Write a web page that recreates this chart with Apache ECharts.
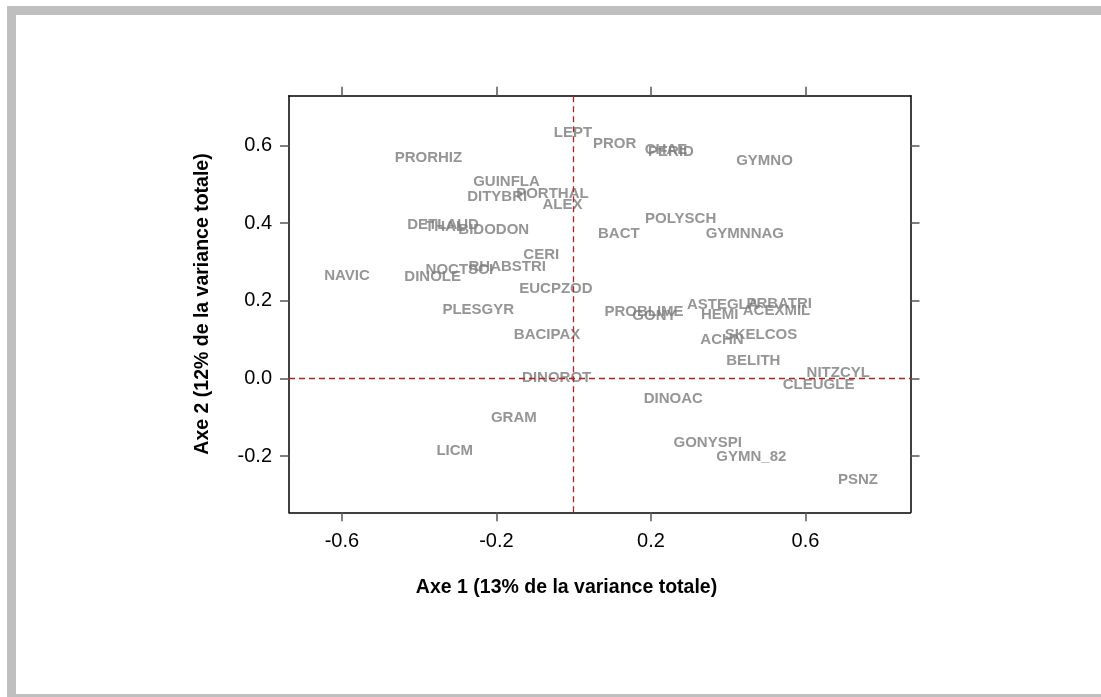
<!DOCTYPE html>
<html>
<head>
<meta charset="utf-8">
<script src="https://cdn.jsdelivr.net/npm/echarts@6/dist/echarts.min.js"></script>
<style>
  html, body { margin: 0; padding: 0; background: #ffffff; }
  #chart { width: 1101px; height: 697px; }
</style>
</head>
<body>
<div id="chart"></div>
<script>
// Taxon codes and their coordinates on the first two axes
const taxa = [
  'LEPT', 'PROR', 'CHAE', 'PERID', 'GYMNO', 'PRORHIZ', 'GUINFLA', 'DITYBRI',
  'PORTHAL', 'ALEX', 'POLYSCH', 'BACT', 'GYMNNAG', 'DETLAUD', 'THAL', 'BIDODON',
  'CERI', 'RHABSTRI', 'NOCTSCI', 'NAVIC', 'DINOLE', 'EUCPZOD', 'PLESGYR', 'BACIPAX',
  'DINOROT', 'GRAM', 'LICM', 'PROBLIME', 'GONY', 'ASTEGLA', 'PRBATRI', 'ACEXMIL',
  'HEMI', 'SKELCOS', 'ACHN', 'BELITH', 'NITZCYL', 'CLEUGLE', 'DINOAC', 'GONYSPI',
  'GYMN_82', 'PSNZ'
];
const axe1 = [
  -0.002, 0.106, 0.239, 0.252, 0.494, -0.376, -0.174, -0.198,
  -0.055, -0.029, 0.277, 0.117, 0.443, -0.338, -0.333, -0.207,
  -0.084, -0.172, -0.296, -0.587, -0.365, -0.046, -0.247, -0.069,
  -0.044, -0.155, -0.308, 0.182, 0.209, 0.386, 0.532, 0.525,
  0.378, 0.485, 0.384, 0.465, 0.685, 0.634, 0.258, 0.347,
  0.460, 0.736
];
const axe2 = [
  0.632, 0.604, 0.588, 0.583, 0.561, 0.568, 0.506, 0.467,
  0.475, 0.448, 0.411, 0.372, 0.372, 0.396, 0.390, 0.383,
  0.319, 0.288, 0.280, 0.263, 0.261, 0.231, 0.176, 0.113,
  0.000, -0.101, -0.187, 0.172, 0.160, 0.190, 0.193, 0.174,
  0.163, 0.112, 0.099, 0.045, 0.014, -0.017, -0.054, -0.166,
  -0.202, -0.262
];

// Tick positions on both axes
const xTicks = [-0.6, -0.2, 0.2, 0.6];
const yTicks = [-0.2, 0.0, 0.2, 0.4, 0.6];

const xLimits = [-0.737, 0.872];
const yLimits = [-0.345, 0.728];

const points = taxa.map((name, i) => ({ name: name, value: [axe1[i], axe2[i]] }));

const FONT = '"Liberation Sans", Arial, Helvetica, sans-serif';

function frameAxis(extra) {
  return Object.assign({
    type: 'value',
    splitLine: { show: false },
    axisLine: { show: true, onZero: false, lineStyle: { color: '#000', width: 1.5 } }
  }, extra);
}

function ticks(values) {
  return { show: true, inside: false, length: 9, customValues: values, lineStyle: { color: '#555', width: 1.5 } };
}

const chart = echarts.init(document.getElementById('chart'), null, { renderer: 'canvas' });

chart.setOption({
  backgroundColor: '#ffffff',
  animation: false,
  grid: { left: 289, right: 190.5, top: 95.7, bottom: 184.7, containLabel: false },
  xAxis: [
    frameAxis({
      position: 'bottom', min: xLimits[0], max: xLimits[1],
      axisTick: ticks(xTicks),
      axisLabel: {
        customValues: xTicks, margin: 19, color: '#000', fontSize: 20, fontFamily: FONT,
        formatter: v => v.toFixed(1)
      }
    }),
    frameAxis({
      position: 'top', min: xLimits[0], max: xLimits[1],
      axisTick: ticks(xTicks),
      axisLabel: { show: false }
    })
  ],
  yAxis: [
    frameAxis({
      position: 'left', min: yLimits[0], max: yLimits[1],
      axisTick: ticks(yTicks),
      axisLabel: {
        customValues: yTicks, margin: 17, color: '#000', fontSize: 20, fontFamily: FONT,
        formatter: v => v.toFixed(1)
      }
    }),
    frameAxis({
      position: 'right', min: yLimits[0], max: yLimits[1],
      axisTick: ticks(yTicks),
      axisLabel: { show: false }
    })
  ],
  series: [{
    type: 'scatter',
    xAxisIndex: 0,
    yAxisIndex: 0,
    symbolSize: 0,
    data: points,
    label: {
      show: true,
      position: 'inside',
      formatter: p => p.name,
      color: '#7a7a7a',
      fontSize: 15,
      fontWeight: 'bold',
      fontFamily: FONT
    },
    emphasis: { disabled: true },
    markLine: {
      silent: true,
      symbol: 'none',
      label: { show: false },
      lineStyle: { color: '#b22222', type: [6, 4], width: 1.3 },
      data: [{ xAxis: 0 }, { yAxis: 0 }]
    },
    z: 3
  }],
  graphic: [
    {
      type: 'rect',
      shape: { x: 11.5, y: 10.5, width: 1110, height: 688 },
      style: { fill: 'none', stroke: '#bfbfbf', lineWidth: 9 },
      silent: true
    },
    {
      type: 'text',
      x: 566.5, y: 588,
      style: {
        text: 'Axe 1 (13% de la variance totale)',
        font: 'bold 19.5px ' + FONT,
        fill: '#000',
        textAlign: 'center',
        textVerticalAlign: 'middle'
      }
    },
    {
      type: 'text',
      x: 203, y: 304,
      rotation: Math.PI / 2,
      style: {
        text: 'Axe 2 (12% de la variance totale)',
        font: 'bold 19.5px ' + FONT,
        fill: '#000',
        textAlign: 'center',
        textVerticalAlign: 'middle'
      }
    }
  ]
});
</script>
</body>
</html>
